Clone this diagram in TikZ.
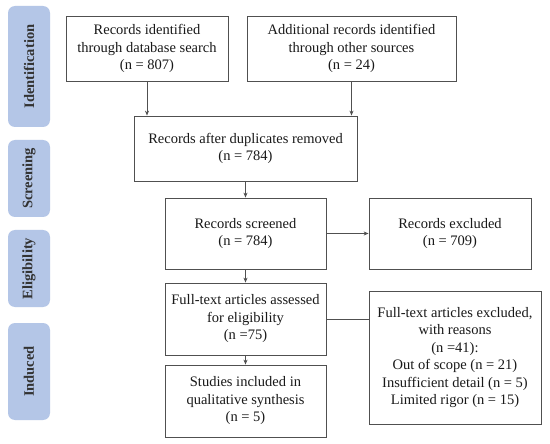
\documentclass[tikz,border=0pt]{standalone}
\usepackage{fontspec}
\setmainfont{Liberation Serif}
\usetikzlibrary{arrows.meta}
\definecolor{sidefill}{HTML}{B4C6E7}
\definecolor{linegray}{HTML}{505050}
\begin{document}
\begin{tikzpicture}[x=1pt,y=-1pt,
  box/.style={draw=linegray, line width=0.8pt, fill=white, align=center, inner sep=2pt,
    font=\fontsize{14.5}{17.5}\selectfont, text=black!90},
  side/.style={fill=sidefill, rounded corners=7pt, draw=none, inner sep=0pt,
    font=\fontsize{14.5}{17.5}\selectfont\bfseries, text=black!80},
  conn/.style={draw=linegray, line width=0.8pt},
  arr/.style={conn, -{Stealth[length=5pt,width=4pt]}}]
\useasboundingbox (0,0) rectangle (550,444);
\fill[white] (0,0) rectangle (550,444);
% side labels
\node[side, minimum width=42pt, minimum height=121pt] (s1) at (29,66.5) {};
\node[rotate=90, font=\fontsize{14.5}{17.5}\selectfont\bfseries, text=black!80] (t1) at (s1.center) {Identification};
\node[side, minimum width=42pt, minimum height=77pt] (s2) at (29,178.5) {};
\node[rotate=90, font=\fontsize{14.5}{17.5}\selectfont\bfseries, text=black!80] (t2) at (s2.center) {Screening};
\node[side, minimum width=42pt, minimum height=77pt] (s3) at (29,268.5) {};
\node[rotate=90, font=\fontsize{14.5}{17.5}\selectfont\bfseries, text=black!80] (t3) at (s3.center) {Eligibility};
\node[side, minimum width=42pt, minimum height=97pt] (s4) at (29,371.5) {};
\node[rotate=90, font=\fontsize{14.5}{17.5}\selectfont\bfseries, text=black!80] (t4) at (s4.center) {Induced};
% boxes
\node[box, minimum width=162pt, minimum height=65pt] (b1) at (147,48.5)
  {Records identified\\through database search\\(n = 807)};
\node[box, minimum width=209pt, minimum height=65pt] (b2) at (351.5,48.5)
  {Additional records identified\\through other sources\\(n = 24)};
\node[box, minimum width=223pt, minimum height=65pt] (b3) at (245.5,148.5)
  {Records after duplicates removed\\(n = 784)};
\node[box, minimum width=161pt, minimum height=71pt] (b4) at (245.5,233.5)
  {Records screened\\(n = 784)};
\node[box, minimum width=162pt, minimum height=71pt] (b5) at (450,233.5)
  {Records excluded\\(n = 709)};
\node[box, minimum width=161pt, minimum height=72pt] (b6) at (245.5,319)
  {Full-text articles assessed\\for eligibility\\(n =75)};
\node[box, minimum width=172pt, minimum height=133pt] (b7) at (455,357.5)
  {Full-text articles excluded,\\with reasons\\(n =41):\\Out of scope (n = 21)\\Insufficient detail (n = 5)\\Limited rigor (n = 15)};
\node[box, minimum width=161pt, minimum height=72pt] (b8) at (245.5,401)
  {Studies included in\\qualitative synthesis\\(n = 5)};
% connectors
\draw[arr] (b1.south) -- (b1.south |- b3.north);
\draw[arr] (b2.south) -- (b2.south |- b3.north);
\draw[arr] (b3.south) -- (b4.north);
\draw[arr] (b4.east) -- (b5.west);
\draw[arr] (b4.south) -- (b6.north);
\draw[conn] (b6.east) -- (b6.east -| b7.west);
\draw[arr] (b6.south) -- (b8.north);
\end{tikzpicture}
\end{document}
